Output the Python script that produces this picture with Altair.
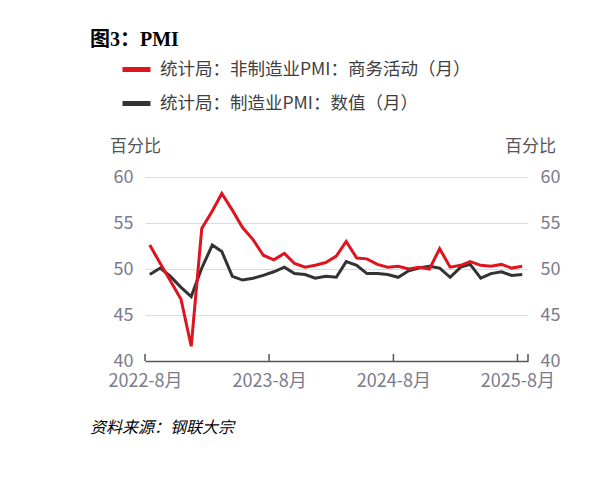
import altair as alt
import pandas as pd

month_str = [d.strftime("%Y-%m-15T00:00:00") for d in pd.date_range("2022-08-01", periods=37, freq="MS")]

non_mfg = [52.6, 50.6, 48.7, 46.7, 41.6, 54.4, 56.3, 58.2, 56.4, 54.5, 53.2, 51.5,
           51.0, 51.7, 50.6, 50.2, 50.4, 50.7, 51.4, 53.0, 51.2, 51.1, 50.5, 50.2,
           50.3, 50.0, 50.2, 50.0, 52.2, 50.2, 50.4, 50.8, 50.4, 50.3, 50.5, 50.1, 50.3]
mfg = [49.4, 50.1, 49.2, 48.0, 47.0, 50.1, 52.6, 51.9, 49.2, 48.8, 49.0, 49.3,
       49.7, 50.2, 49.5, 49.4, 49.0, 49.2, 49.1, 50.8, 50.4, 49.5, 49.5, 49.4,
       49.1, 49.8, 50.1, 50.3, 50.1, 49.1, 50.2, 50.5, 49.0, 49.5, 49.7, 49.3, 49.4]

name_red = "统计局：非制造业PMI：商务活动（月）"
name_blk = "统计局：制造业PMI：数值（月）"
series_names = [name_red, name_blk]
series_colors = ["#e0141e", "#333333"]

tick_dates = ["2022-08-01T00:00:00", "2023-08-01T00:00:00", "2024-08-01T00:00:00",
              "2025-08-01T00:00:00", "2025-09-01T00:00:00"]

W, H = 383, 184
FONT = "Noto Sans CJK SC"

df = pd.DataFrame({
    "date": month_str * 2,
    "value": non_mfg + mfg,
    "series": [name_red] * 37 + [name_blk] * 37,
})

xdomain = [alt.DateTime(year=2022, month=8, date=1), alt.DateTime(year=2025, month=9, date=1)]
xvals = [alt.DateTime(year=2022, month=8, date=1), alt.DateTime(year=2023, month=8, date=1),
         alt.DateTime(year=2024, month=8, date=1), alt.DateTime(year=2025, month=8, date=1),
         alt.DateTime(year=2025, month=9, date=1)]

xenc = alt.X("date:T", scale=alt.Scale(domain=xdomain),
             axis=alt.Axis(values=xvals, title=None, grid=False, ticks=False, tickSize=0,
                           labelExpr="month(datum.value) == 7 ? (year(datum.value) + '-' + (month(datum.value) + 1) + '月') : ''",
                           labelFontSize=18, labelColor="#7b7b8b", labelFont=FONT, labelPadding=11,
                           domainColor="#555555", domainWidth=1.5, labelOverlap=False, labelFlush=False))

color = alt.Color("series:N", scale=alt.Scale(domain=series_names, range=series_colors),
                  legend=alt.Legend(title=None, orient="none", legendX=-25, legendY=-124,
                                    direction="vertical", symbolType="stroke", symbolSize=784,
                                    symbolStrokeWidth=5, labelFontSize=17.5, labelFont=FONT,
                                    labelColor="#404040", labelOffset=7, rowPadding=7,
                                    labelLimit=500))

yscale = alt.Scale(domain=[40, 60], nice=False, zero=False)

def yaxis(orient, grid):
    return alt.Axis(orient=orient, values=[40, 45, 50, 55, 60], title=None, grid=grid,
                    gridColor="#d9dbe6", gridWidth=1, domain=False, ticks=False,
                    labelFontSize=18, labelColor="#7b7b8b", labelFont=FONT, labelPadding=12)

blk = alt.Chart(df).transform_filter(alt.datum.series == name_blk).mark_line(strokeWidth=3).encode(
    x=xenc, y=alt.Y("value:Q", scale=yscale, axis=yaxis("left", True)), color=color)
red = alt.Chart(df).transform_filter(alt.datum.series == name_red).mark_line(strokeWidth=3).encode(
    x=xenc, y=alt.Y("value:Q", scale=yscale, axis=yaxis("right", False)), color=color)

ticks = alt.Chart(pd.DataFrame({"d": tick_dates})).mark_rule(color="#555555", strokeWidth=1.5).encode(
    x=alt.X("d:T"), y=alt.value(H), y2=alt.value(H - 7))

def txt(s, x, y, size=17, weight="normal", style="normal", color="#404040", font=FONT, align="left"):
    return alt.Chart(pd.DataFrame({"t": [s]})).mark_text(
        align=align, baseline="middle", fontSize=size, fontWeight=weight, fontStyle=style,
        color=color, font=font).encode(text="t:N", x=alt.value(x), y=alt.value(y))

title = txt("图3：PMI", -55, -137, size=20, weight="bold", color="#000000",
            font="Liberation Serif, Noto Sans CJK SC")
unit_l = txt("百分比", -35, -30, size=17, color="#555555")
unit_r = txt("百分比", 360, -30, size=17, color="#555555")
source = txt("资料来源：钢联大宗", -55, 251, size=16, style="italic", color="#000000")

chart = alt.layer(blk, red, ticks, title, unit_l, unit_r, source).resolve_scale(
    y="independent").properties(
    width=W, height=H,
    autosize=alt.AutoSizeParams(type="none"),
    padding={"left": 137, "top": 169, "right": 60, "bottom": 100},
).configure_view(stroke=None)

chart.save("out.html", embed_options={"renderer": "svg", "actions": False})
